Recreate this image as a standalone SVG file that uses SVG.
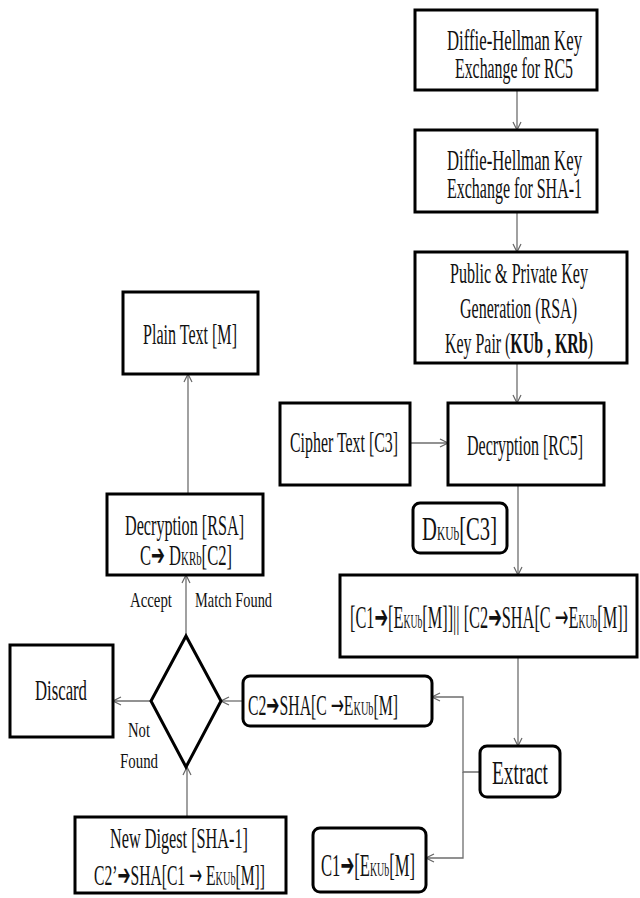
<svg xmlns="http://www.w3.org/2000/svg" width="640" height="898" viewBox="0 0 640 898">
<defs>
<marker id="arr" markerWidth="10" markerHeight="10" refX="9" refY="5" orient="auto" markerUnits="userSpaceOnUse"><path d="M1,1 L9,5 L1,9" fill="none" stroke="#666" stroke-width="1.2"/></marker>
</defs>
<style>
.box{fill:#fff;stroke:#000;stroke-width:3}
.t{font-family:"Liberation Serif","Times New Roman",serif;font-size:29px;fill:#111}
.lbl{font-size:22px}
.big{font-size:32px}
.xl{font-size:34px}
.sm{font-size:19px}
.b{font-weight:bold}
.ar{font-family:"DejaVu Sans",sans-serif;font-weight:bold}
.ar2{font-family:"DejaVu Sans",sans-serif}
.c{fill:none;stroke:#6e6e6e;stroke-width:1.3;marker-end:url(#arr)}
.d{fill:#fff;stroke:#000;stroke-width:3}
</style>
<rect width="640" height="898" fill="#fff"/>

<g id="connectors">
<path class="c" d="M517,90 V130"/>
<path class="c" d="M517,212 V252"/>
<path class="c" d="M517,363 V403"/>
<path class="c" d="M410,443 H448"/>
<path class="c" d="M518,485 V575"/>
<path class="c" d="M518,657 V746"/>
<path class="c" d="M480,772 H463 V697 H432"/>
<path class="c" d="M463,772 V858 H426"/>
<path class="c" d="M243,701 H221"/>
<path class="c" d="M151,701 H113"/>
<path class="c" d="M187,817 V767"/>
<path class="c" d="M186,636 V575"/>
<path class="c" d="M188,494 V374"/>
</g>

<g id="dh-rc5">
<rect class="box" x="415" y="10" width="182" height="80"/>
<text class="t" transform="translate(447,50) scale(0.55,1)" textLength="245.5" lengthAdjust="spacingAndGlyphs">Diffie-Hellman Key</text>
<text class="t" transform="translate(455,78) scale(0.55,1)" textLength="214.5" lengthAdjust="spacingAndGlyphs">Exchange for RC5</text>
</g>

<g id="dh-sha">
<rect class="box" x="415" y="130" width="182" height="82"/>
<text class="t" transform="translate(447,170) scale(0.55,1)" textLength="245.5" lengthAdjust="spacingAndGlyphs">Diffie-Hellman Key</text>
<text class="t" transform="translate(447,198) scale(0.55,1)" textLength="245.5" lengthAdjust="spacingAndGlyphs">Exchange for SHA-1</text>
</g>

<g id="rsa-keygen">
<rect class="box" x="415" y="252" width="212" height="111"/>
<text class="t" transform="translate(450,283) scale(0.55,1)" textLength="250.9" lengthAdjust="spacingAndGlyphs">Public &amp; Private Key</text>
<text class="t" transform="translate(460,318) scale(0.55,1)" textLength="212.7" lengthAdjust="spacingAndGlyphs">Generation (RSA)</text>
<text class="t" transform="translate(445,353) scale(0.55,1)" textLength="269.1" lengthAdjust="spacingAndGlyphs">Key Pair (<tspan class="b">KUb , KRb</tspan>)</text>
</g>

<g id="cipher-text">
<rect class="box" x="280" y="403" width="130" height="82"/>
<text class="t" transform="translate(290,452) scale(0.55,1)" textLength="196.4" lengthAdjust="spacingAndGlyphs">Cipher Text [C3]</text>
</g>

<g id="decryption-rc5">
<rect class="box" x="448" y="403" width="156" height="82"/>
<text class="t" transform="translate(467,455) scale(0.55,1)" textLength="210.9" lengthAdjust="spacingAndGlyphs">Decryption [RC5]</text>
</g>

<g id="dkub-c3">
<rect class="box" x="413" y="503" width="94" height="50" rx="7"/>
<text class="t xl" transform="translate(422,540) scale(0.55,1)" textLength="136.4" lengthAdjust="spacingAndGlyphs">D<tspan class="sm">KUb</tspan>[C3]</text>
</g>

<g id="concat">
<rect class="box" x="340" y="575" width="297" height="82"/>
<text class="t big" transform="translate(350,628) scale(0.5,1)" textLength="556" lengthAdjust="spacingAndGlyphs">[C1<tspan class="ar">➔</tspan>[E<tspan class="sm">KUb</tspan>[M]]|| [C2<tspan class="ar">➔</tspan>SHA[C <tspan class="ar2">→</tspan>E<tspan class="sm">KUb</tspan>[M]]</text>
</g>

<g id="extract">
<rect class="box" x="480" y="746" width="80" height="51" rx="7"/>
<text class="t xl" transform="translate(492,784) scale(0.55,1)" textLength="101.8" lengthAdjust="spacingAndGlyphs">Extract</text>
</g>

<g id="c2-box">
<rect class="box" x="243" y="676" width="189" height="50" rx="7"/>
<text class="t" transform="translate(248,715) scale(0.55,1)" textLength="272.7" lengthAdjust="spacingAndGlyphs">C2<tspan class="ar">➔</tspan>SHA[C <tspan class="ar2">→</tspan>E<tspan class="sm">KUb</tspan>[M]</text>
</g>

<g id="c1-box">
<rect class="box" x="313" y="828" width="113" height="64" rx="7"/>
<text class="t big" transform="translate(321,876) scale(0.52,1)" textLength="180.8" lengthAdjust="spacingAndGlyphs">C1<tspan class="ar">➔</tspan>[E<tspan class="sm">KUb</tspan>[M]</text>
</g>

<g id="new-digest">
<rect class="box" x="75" y="817" width="211" height="76"/>
<text class="t" transform="translate(110,848) scale(0.55,1)" textLength="250.9" lengthAdjust="spacingAndGlyphs">New Digest [SHA-1]</text>
<text class="t" transform="translate(94,885) scale(0.55,1)" textLength="310.9" lengthAdjust="spacingAndGlyphs">C2’<tspan class="ar">➔</tspan>SHA[C1 <tspan class="ar2">→</tspan> E<tspan class="sm">KUb</tspan>[M]]</text>
</g>

<g id="decision">
<polygon class="d" points="186,636 221,701 186,767 151,701"/>
<text class="t lbl" transform="translate(130,607) scale(0.66,1)" textLength="63.6" lengthAdjust="spacingAndGlyphs">Accept</text>
<text class="t lbl" transform="translate(195,607) scale(0.66,1)" textLength="116.7" lengthAdjust="spacingAndGlyphs">Match Found</text>
<text class="t lbl" transform="translate(128,737) scale(0.66,1)" textLength="33.3" lengthAdjust="spacingAndGlyphs">Not</text>
<text class="t lbl" transform="translate(120,768) scale(0.66,1)" textLength="57.6" lengthAdjust="spacingAndGlyphs">Found</text>
</g>

<g id="discard">
<rect class="box" x="10" y="645" width="103" height="92"/>
<text class="t" transform="translate(35,700) scale(0.55,1)" textLength="94.5" lengthAdjust="spacingAndGlyphs">Discard</text>
</g>

<g id="decryption-rsa">
<rect class="box" x="107" y="494" width="156" height="81"/>
<text class="t" transform="translate(125,535) scale(0.55,1)" textLength="216.4" lengthAdjust="spacingAndGlyphs">Decryption [RSA]</text>
<text class="t" transform="translate(140,565) scale(0.55,1)" textLength="167.3" lengthAdjust="spacingAndGlyphs">C<tspan class="ar">➔</tspan> D<tspan class="sm">KRb</tspan>[C2]</text>
</g>

<g id="plain-text">
<rect class="box" x="123" y="292" width="135" height="82"/>
<text class="t" transform="translate(143,344) scale(0.55,1)" textLength="170.9" lengthAdjust="spacingAndGlyphs">Plain Text [M]</text>
</g>
</svg>
